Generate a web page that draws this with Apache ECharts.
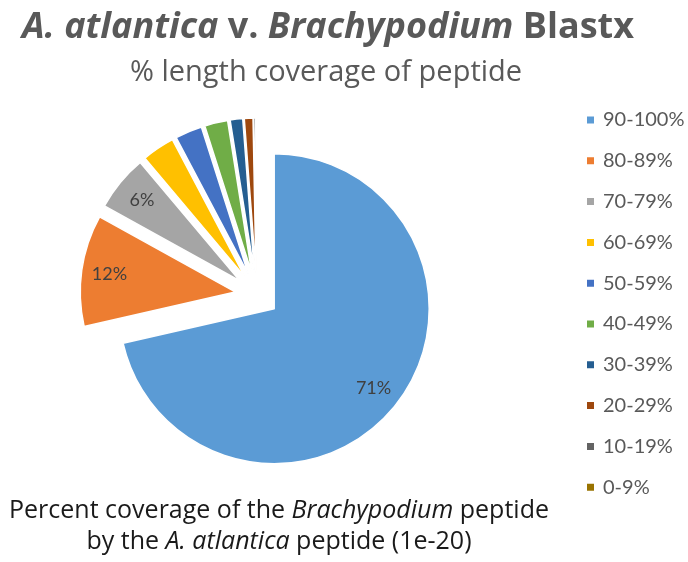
<!DOCTYPE html>
<html>
<head>
<meta charset="utf-8">
<style>
    html, body { margin: 0; padding: 0; background: #fff; }
    #chart-container { width: 688px; height: 562px; }
</style>
<script src="https://cdn.jsdelivr.net/npm/echarts@6/dist/echarts.min.js"></script>
</head>
<body>
<div id="chart-container"></div>
<script>
// coverage bins, largest first (same order as the legend)
var categories = ['90-100%', '80-89%', '70-79%', '60-69%', '50-59%', '40-49%', '30-39%', '20-29%', '10-19%', '0-9%'];
// share of peptides in each bin
var shares = [71.2, 11.6, 5.8, 3.4, 2.8, 2.4, 1.3, 0.9, 0.2, 0.1];
// only the three big slices carry a label
var labelled = ['90-100%', '80-89%', '70-79%'];

(function() {
    var chart = {
        pageReady: function() {
            var me = this;
            var container = document.getElementById('chart-container');
            var myChart = echarts.init(container, null, { renderer: 'canvas' });
            myChart.setOption(me._option());
        },
        /**
         * data items, every slice exploded
         */
        _items: function() {
            return categories.map(function(name, i) {
                return { name: name, value: shares[i], selected: true };
            });
        },
        _option: function() {
            var me = this;
            var head = '"Open Sans", Lato, sans-serif';
            var font = 'Lato, "Noto Sans", sans-serif';
            var pieCenter = [257, 295];
            var offset = 22;
            return {
                animation: false,
                color: ['#5B9BD5', '#ED7D31', '#A5A5A5', '#FFC000', '#4472C4',
                        '#70AD47', '#255E91', '#9E480E', '#636363', '#997300'],
                legend: {
                    data: categories,
                    orient: 'vertical',
                    left: 585,
                    top: 110,
                    padding: 0,
                    itemWidth: 9,
                    itemHeight: 9,
                    itemGap: 20.8,
                    icon: 'rect',
                    selectedMode: false,
                    textStyle: {
                        fontFamily: font,
                        fontSize: 20,
                        color: '#595959',
                        padding: [0, 0, 0, 3]
                    }
                },
                graphic: [{
                    type: 'text',
                    x: 328, y: 28,
                    style: {
                        text: '{i|A. atlantica}{b| v. }{i|Brachypodium}{b| Blastx}',
                        align: 'center',
                        verticalAlign: 'middle',
                        fill: '#595959',
                        rich: {
                            i: { fontFamily: head, fontSize: 36, fontWeight: 'bold', fontStyle: 'italic', fill: '#595959' },
                            b: { fontFamily: head, fontSize: 36, fontWeight: 'bold', fill: '#595959' }
                        }
                    }
                }, {
                    type: 'text',
                    x: 326, y: 73,
                    style: {
                        text: '% length coverage of peptide',
                        align: 'center',
                        verticalAlign: 'middle',
                        fontFamily: head,
                        fontSize: 29,
                        fill: '#595959'
                    }
                }, {
                    type: 'text',
                    x: 279, y: 511,
                    style: {
                        text: '{n|Percent coverage of the }{i|Brachypodium}{n| peptide}',
                        align: 'center',
                        verticalAlign: 'middle',
                        rich: {
                            n: { fontFamily: head, fontSize: 25, fill: '#1a1a1a' },
                            i: { fontFamily: head, fontSize: 25, fontStyle: 'italic', fill: '#1a1a1a' }
                        }
                    }
                }, {
                    type: 'text',
                    x: 279, y: 542,
                    style: {
                        text: '{n|by the }{i|A. atlantica}{n| peptide (1e-20)}',
                        align: 'center',
                        verticalAlign: 'middle',
                        rich: {
                            n: { fontFamily: head, fontSize: 25, fill: '#1a1a1a' },
                            i: { fontFamily: head, fontSize: 25, fontStyle: 'italic', fill: '#1a1a1a' }
                        }
                    }
                }],
                series: [{
                    // the slices
                    name: 'coverage',
                    type: 'pie',
                    center: pieCenter,
                    radius: 155,
                    startAngle: 90,
                    clockwise: true,
                    selectedMode: 'multiple',
                    selectedOffset: offset,
                    silent: true,
                    label: { show: false },
                    labelLine: { show: false },
                    itemStyle: { borderColor: '#ffffff', borderWidth: 1.5 },
                    emphasis: { disabled: true },
                    data: me._items()
                }, {
                    // transparent ring only used to put the % labels at ~0.8r
                    name: 'labels',
                    type: 'pie',
                    center: pieCenter,
                    radius: [93, 155],
                    startAngle: 90,
                    clockwise: true,
                    selectedMode: 'multiple',
                    selectedOffset: offset,
                    silent: true,
                    itemStyle: { color: 'rgba(0,0,0,0)' },
                    emphasis: { disabled: true },
                    label: {
                        show: true,
                        position: 'inside',
                        fontFamily: font,
                        fontSize: 18,
                        color: '#404040',
                        formatter: function(p) {
                            if (labelled.indexOf(p.name) < 0) return '';
                            return Math.round(p.percent) + '%';
                        }
                    },
                    labelLine: { show: false },
                    data: me._items()
                }]
            };
        }
    };
    window.coverage_chart = chart;
})();
window.coverage_chart.pageReady();
</script>
</body>
</html>
